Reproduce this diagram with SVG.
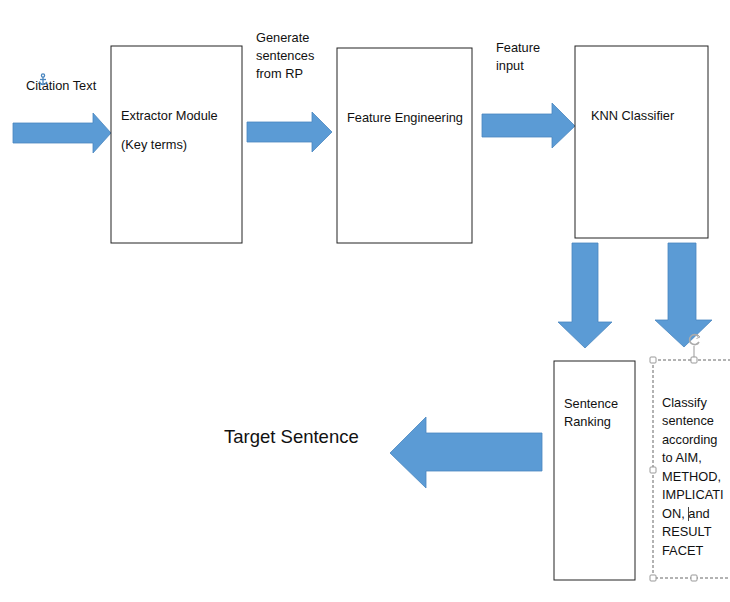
<svg xmlns="http://www.w3.org/2000/svg" width="730" height="602" viewBox="0 0 730 602">
<style>
.box{fill:#fff;stroke:#222;stroke-width:1}
.arr{fill:#5B9BD5;stroke:#4A86BF;stroke-width:0.8}
text{font-family:"Liberation Sans",Arial,sans-serif;font-size:12.8px;fill:#111}
.big{font-size:18.5px}
.h{fill:#fff;stroke:#999;stroke-width:1}
</style>
<rect width="730" height="602" fill="#fff"/>
<g id="citation">
<text x="26" y="90">Citation Text</text>
<g id="anchor" fill="none" stroke="#4A86BF" stroke-width="1.3">
<circle cx="43" cy="75.5" r="1.6"/>
<line x1="43" y1="77" x2="43" y2="85"/>
<line x1="40" y1="79.5" x2="46" y2="79.5"/>
<path d="M39 82 Q43 87 47 82"/>
</g>
</g>
<g id="connectors">
<polygon class="arr" points="13,123 93,123 93,113 111,133 93,153 93,143 13,143"/>
<polygon class="arr" points="247,122 312,122 312,112 332,132 312,152 312,142 247,142"/>
<polygon class="arr" points="482,114 552,114 552,103 575,126 552,148 552,137 482,137"/>
<polygon class="arr" points="572,243 598,243 598,322 612,322 585,348 558,322 572,322"/>
<polygon class="arr" points="668,243 696,243 696,320 712,320 684,347 655,320 668,320"/>
<polygon class="arr" points="542,433 426,433 426,417 390,453 426,488 426,471 542,471"/>
</g>
<g id="extractor">
<rect class="box" x="111" y="46" width="131" height="197"/>
<text x="121" y="120">Extractor Module</text>
<text x="121" y="149">(Key terms)</text>
</g>
<g id="generate-label">
<text x="256" y="42">Generate</text>
<text x="256" y="60">sentences</text>
<text x="256" y="78">from RP</text>
</g>
<g id="feature-engineering">
<rect class="box" x="337" y="48" width="135" height="195"/>
<text x="347" y="122">Feature Engineering</text>
</g>
<g id="feature-input-label">
<text x="496" y="52">Feature</text>
<text x="496" y="70">input</text>
</g>
<g id="knn">
<rect class="box" x="575" y="46" width="133" height="192"/>
<text x="591" y="120">KNN Classifier</text>
</g>
<g id="target">
<text class="big" x="224" y="443">Target Sentence</text>
</g>
<g id="ranking">
<rect class="box" x="554" y="361" width="81" height="219"/>
<text x="564" y="408">Sentence</text>
<text x="564" y="426">Ranking</text>
</g>
<g id="classify">
<path d="M653 360 H730 M653 360 V578 H730" fill="none" stroke="#666" stroke-width="1" stroke-dasharray="3,2"/>
<text x="662" y="407">Classify</text>
<text x="662" y="425">sentence</text>
<text x="662" y="444">according</text>
<text x="662" y="462">to AIM,</text>
<text x="662" y="481">METHOD,</text>
<text x="662" y="499">IMPLICATI</text>
<text x="662" y="518">ON, and</text>
<line x1="688.5" y1="507" x2="688.5" y2="521" stroke="#111" stroke-width="0.8"/>
<text x="662" y="536">RESULT</text>
<text x="662" y="555">FACET</text>
<line x1="694" y1="346" x2="694" y2="357" stroke="#999" stroke-width="1"/>
<path d="M698.5 336.5 A5 5 0 1 0 699 342" fill="none" stroke="#aaa" stroke-width="1.6"/>
<path d="M697 334 L700 337 L696.5 338.5" fill="none" stroke="#aaa" stroke-width="1"/>
<rect class="h" x="650" y="357" width="6" height="6" rx="1"/>
<rect class="h" x="691" y="357" width="6" height="6" rx="1"/>
<rect class="h" x="650" y="467" width="6" height="6" rx="1"/>
<rect class="h" x="650" y="575" width="6" height="6" rx="1"/>
<rect class="h" x="691" y="575" width="6" height="6" rx="1"/>
</g>
</svg>
